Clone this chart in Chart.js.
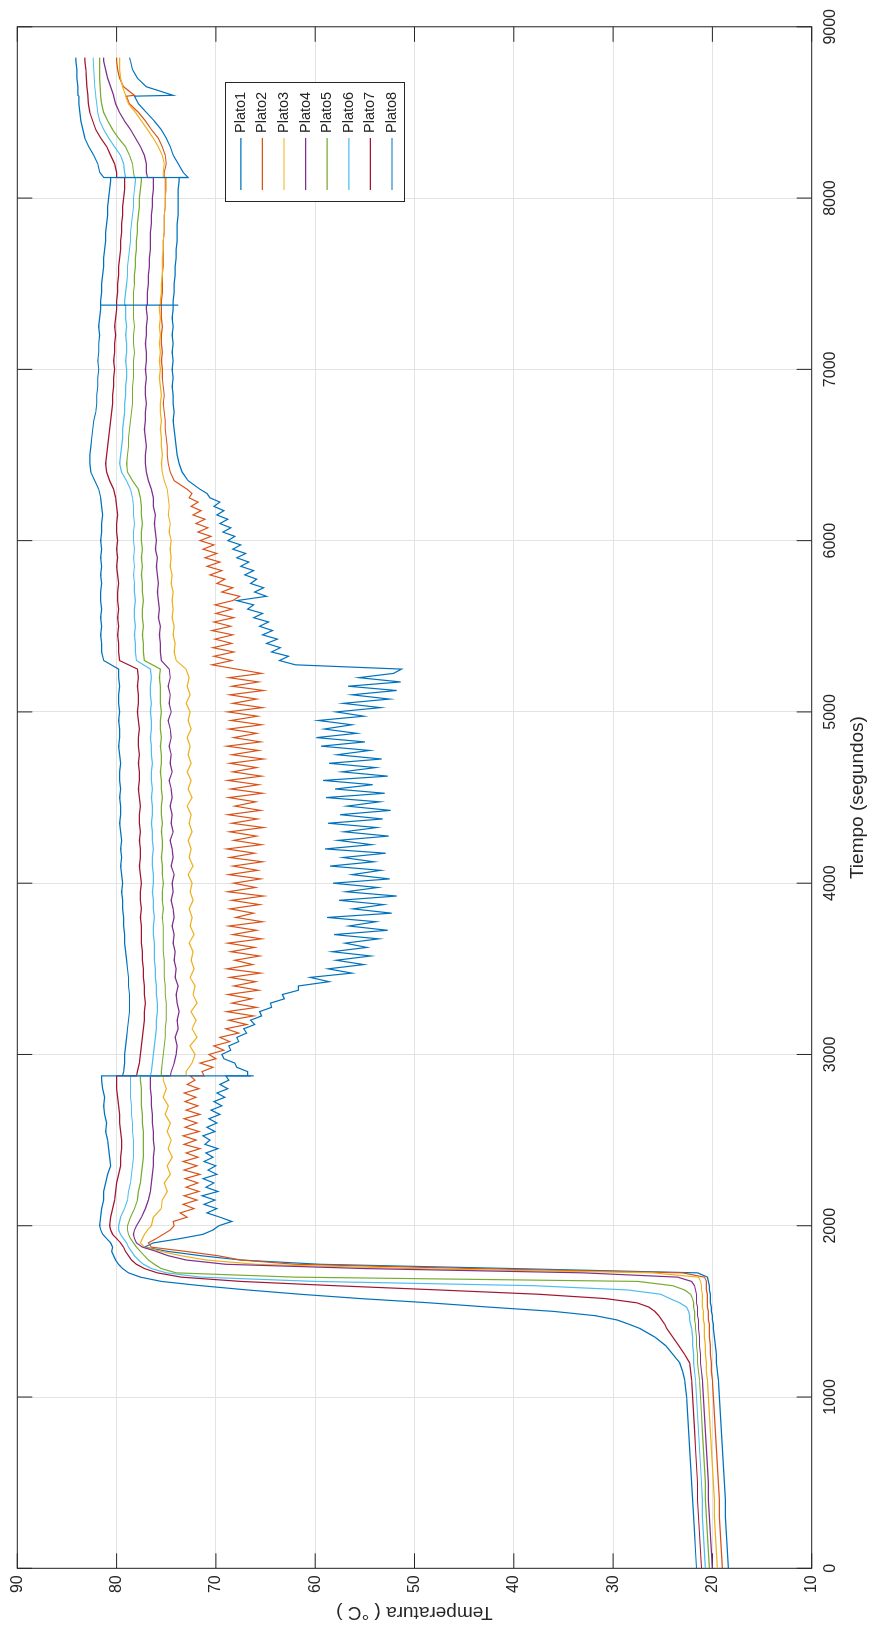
<!DOCTYPE html>
<html lang="es">
<head>
<meta charset="utf-8">
<title>Temperatura de los platos</title>
<script src="https://cdn.jsdelivr.net/npm/chart.js@4.4.1/dist/chart.umd.min.js"></script>
<style>
  html, body { margin: 0; padding: 0; width: 873px; height: 1629px; overflow: hidden; background: #ffffff; }
  /* the figure is drawn landscape and turned a quarter turn, like the reference */
  #marco { position: absolute; left: 0; top: 0; width: 1629px; height: 873px;
           transform-origin: 0 0; transform: translate(0, 1629px) rotate(-90deg); }
</style>
</head>
<body>
<div id="marco"><canvas id="grafico" width="1629" height="873"></canvas></div>
<script>
// tiempo en segundos para los platos 3 a 8 (los saltos del registro se repiten en el mismo instante)
var tiempo = [0, 100, 200, 300, 400, 500, 600, 700, 800, 900, 1000, 1100,
  1150, 1200, 1250, 1300, 1350, 1400,
  1425, 1450, 1475, 1500, 1525, 1550, 1575, 1600, 1625, 1650, 1675, 1700, 1725, 1750, 1775, 1800, 1825, 1850, 1875, 1900, 1925, 1950, 1975, 2000,
  2050, 2100, 2150, 2200, 2250, 2300, 2350, 2400, 2450, 2500, 2550, 2600, 2650, 2700, 2750, 2800, 2850,
  2875, 2875, 2875,
  2900, 2950, 3000, 3050, 3100, 3150, 3200, 3250, 3300, 3350, 3400, 3450, 3500, 3550, 3600, 3650, 3700, 3750, 3800, 3850,
  3900, 3950, 4000, 4050, 4100, 4150, 4200, 4250, 4300, 4350, 4400, 4450, 4500, 4550, 4600, 4650, 4700, 4750, 4800, 4850,
  4900, 4950, 5000, 5050, 5100, 5150, 5200, 5250,
  5300, 5350, 5400, 5450, 5500, 5550, 5600, 5650, 5700, 5750, 5800, 5850, 5900, 5950, 6000, 6050, 6100, 6150, 6200, 6250,
  6300, 6350, 6400, 6450, 6500, 6550, 6600, 6650, 6700, 6750, 6800, 6850, 6900, 6950, 7000, 7050, 7100, 7150, 7200, 7250,
  7300, 7350,
  7375, 7375, 7375,
  7400, 7450, 7500, 7550, 7600, 7650, 7700, 7750, 7800, 7850, 7900, 7950, 8000, 8050, 8100,
  8120, 8120, 8120,
  8150, 8200, 8250, 8300, 8350, 8400, 8450, 8500, 8550, 8595, 8600, 8650, 8700, 8750, 8800, 8820];

// tiempo mas fino para los platos 1 y 2, que son los ruidosos
var tiempoFino = [0, 100, 200, 300, 400, 500, 600, 700, 800, 900, 1000, 1100,
  1150, 1200, 1250, 1300, 1350, 1400,
  1425, 1450, 1475, 1500, 1525, 1550, 1575, 1600, 1625, 1650, 1675, 1700, 1725, 1750, 1775, 1800, 1825, 1850, 1875, 1900, 1925, 1950, 1975, 2000,
  2025, 2050, 2075, 2100, 2125, 2150, 2175, 2200, 2225, 2250, 2275, 2300, 2325, 2350, 2375, 2400, 2425, 2450, 2475, 2500,
  2525, 2550, 2575, 2600, 2625, 2650, 2675, 2700, 2725, 2750, 2775, 2800, 2825, 2850,
  2875, 2875, 2875,
  2900, 2925, 2950, 2975, 3000, 3025, 3050, 3075, 3100, 3125,
  3150, 3175, 3200, 3225, 3250, 3275, 3300, 3325, 3350, 3375,
  3400, 3425, 3450, 3475, 3500, 3525, 3550, 3575, 3600, 3625,
  3650, 3675, 3700, 3725, 3750, 3775, 3800, 3825, 3850, 3875,
  3900, 3925, 3950, 3975, 4000, 4025, 4050, 4075, 4100, 4125,
  4150, 4175, 4200, 4225, 4250, 4275, 4300, 4325, 4350, 4375,
  4400, 4425, 4450, 4475, 4500, 4525, 4550, 4575, 4600, 4625,
  4650, 4675, 4700, 4725, 4750, 4775, 4800, 4825, 4850, 4875,
  4900, 4925, 4950, 4975, 5000, 5025, 5050, 5075, 5100, 5125,
  5150, 5175, 5200, 5225, 5250,
  5275, 5300, 5325, 5350, 5375, 5400, 5425, 5450, 5475, 5500,
  5525, 5550, 5575, 5600, 5625, 5650, 5675, 5700, 5725, 5750,
  5775, 5800, 5825, 5850, 5875, 5900, 5925, 5950, 5975, 6000,
  6025, 6050, 6075, 6100, 6125, 6150, 6175, 6200, 6225, 6250,
  6275, 6300,
  6350, 6400, 6450, 6500, 6550, 6600, 6650, 6700, 6750, 6800, 6850, 6900, 6950, 7000, 7050, 7100, 7150, 7200, 7250, 7300, 7350,
  7375, 7375, 7375,
  7400, 7450, 7500, 7550, 7600, 7650, 7700, 7750, 7800, 7850, 7900, 7950, 8000, 8050, 8100,
  8120, 8120, 8120,
  8150, 8200, 8250, 8300, 8350, 8400, 8450, 8500, 8550, 8595, 8600, 8650, 8700, 8750, 8800, 8820];

var plato1 = [18.4, 18.5, 18.6, 18.7, 18.7, 18.8, 18.9, 19.0, 19.1, 19.2, 19.3, 19.4,
  19.5, 19.6, 19.6, 19.7, 19.8, 19.9, 19.9, 20.0, 20.0, 20.1, 20.1, 20.2, 20.2, 20.2, 20.3, 20.3, 20.4, 20.5,
  21.5, 40.0, 59.5, 67.5, 71.5, 74.8, 77.2, 76.3, 73.6, 71.3, 70.3, 69.7,
  68.4, 69.6, 70.9, 69.9, 71.2, 70.1, 71.4, 69.8, 71.0, 70.2, 71.3, 69.9, 70.8, 70.0, 71.2, 70.3,
  71.0, 69.8, 71.1, 70.6, 71.3, 70.1, 70.9, 69.9, 70.7, 69.6, 70.5, 69.4, 70.2, 69.1, 69.9, 68.8, 69.6, 68.7,
  69.0, 66.2, 66.8,
  66.8, 67.9, 68.1, 69.2, 69.4, 68.5, 68.7, 67.7, 67.9, 66.9,
  67.2, 66.1, 66.5, 65.4, 65.6, 64.4, 64.5, 63.1, 63.3, 61.7,
  61.7, 58.6, 60.5, 56.3, 58.7, 55.1, 57.9, 54.4, 58.3, 54.8,
  57.0, 53.6, 58.1, 52.7, 56.6, 53.9, 58.8, 52.3, 56.2, 53.1,
  57.6, 51.8, 56.9, 53.7, 58.2, 52.5, 56.3, 53.4, 58.5, 54.1,
  57.2, 52.9, 59.0, 54.3, 57.7, 52.6, 57.1, 53.8, 58.7, 53.2,
  57.5, 52.4, 56.8, 53.5, 58.9, 53.0, 58.0, 54.2, 59.2, 52.7,
  57.3, 53.9, 58.6, 53.3, 57.8, 54.5, 59.4, 55.0, 59.9, 55.8,
  59.1, 56.3, 59.7, 55.1, 57.9, 53.4, 57.2, 52.5, 56.3, 51.8,
  56.7, 51.4, 55.6, 52.1, 51.3,
  62.0, 63.6, 62.7, 64.4, 63.5, 64.9, 63.8, 65.3, 64.3, 65.6,
  64.7, 66.2, 65.3, 66.8, 66.2, 67.9, 64.9, 66.1, 65.2, 66.5,
  65.9, 67.1, 66.2, 67.5, 66.7, 67.9, 67.0, 68.3, 67.5, 68.8,
  68.1, 69.3, 68.5, 69.6, 68.8, 69.9, 69.2, 70.2, 69.6, 70.6,
  70.9, 71.6,
  72.8, 73.4, 73.7, 73.9, 74.0, 74.1, 74.2, 74.3, 74.2, 74.3, 74.3, 74.4, 74.3, 74.4, 74.3, 74.4, 74.3, 74.4, 74.3, 74.4, 74.3,
  74.3, 74.3, 74.3,
  74.3, 74.2, 74.2, 74.1, 74.1, 74.0, 74.0, 73.9, 73.9, 73.9, 73.8, 73.8, 73.8, 73.8, 73.7,
  73.7, 73.7, 72.8,
  73.3, 73.8, 74.3, 74.6, 75.0, 75.5, 76.2, 77.0, 77.8, 78.2, 74.3, 77.0, 77.9, 78.4, 78.6, 78.7];

var plato2 = [19.0, 19.1, 19.2, 19.3, 19.3, 19.4, 19.5, 19.6, 19.7, 19.8, 19.9, 20.0,
  20.1, 20.1, 20.2, 20.2, 20.3, 20.3, 20.3, 20.4, 20.4, 20.4, 20.5, 20.5, 20.5, 20.5, 20.6, 20.6, 20.6, 20.8,
  23.0, 44.0, 62.0, 67.5, 69.8, 73.0, 76.5, 76.8, 76.0, 75.3, 74.6, 74.2,
  74.3, 72.9, 73.6, 72.2, 73.3, 71.9, 73.2, 71.7, 73.0, 71.8, 73.1, 71.6, 73.2, 71.9, 73.3, 71.8,
  73.0, 71.6, 73.2, 72.0, 73.3, 71.7, 73.1, 71.9, 73.2, 71.6, 73.0, 71.8, 73.1, 72.0, 73.2, 71.7, 72.9, 72.1,
  72.6, 72.6, 71.2,
  71.4, 70.3, 71.6, 70.0, 70.7, 69.2, 70.2, 68.6, 69.6, 67.7,
  69.0, 66.9, 68.7, 66.2, 68.9, 65.9, 68.4, 66.4, 68.8, 65.7,
  68.2, 66.0, 68.6, 65.5, 68.9, 66.3, 68.1, 65.6, 68.5, 66.1,
  68.8, 65.4, 68.3, 65.9, 68.7, 65.3, 68.0, 66.2, 68.6, 65.6,
  68.4, 65.2, 68.8, 66.0, 68.2, 65.5, 68.7, 65.8, 68.3, 65.3,
  68.6, 66.1, 68.9, 65.4, 68.2, 65.9, 68.6, 65.2, 68.4, 65.8,
  68.8, 65.5, 68.1, 66.0, 68.7, 65.3, 68.5, 65.7, 68.8, 65.4,
  68.3, 65.9, 68.6, 65.2, 68.4, 65.7, 68.9, 65.5, 68.2, 65.9,
  68.7, 65.4, 68.5, 65.8, 68.8, 65.3, 68.3, 65.9, 68.6, 65.2,
  68.4, 65.7, 68.7, 65.4, 67.9,
  70.4, 68.4, 70.2, 68.2, 70.3, 68.4, 70.1, 68.3, 70.4, 68.5,
  70.2, 68.2, 70.0, 68.4, 70.1, 68.3, 67.6, 69.4, 68.3, 69.9,
  69.1, 70.6, 69.4, 70.9, 69.6, 71.1, 69.9, 71.3, 70.2, 71.6,
  70.5, 71.8, 70.8, 72.0, 71.1, 72.3, 71.5, 72.5, 71.8, 72.7,
  72.4, 72.9,
  74.2, 74.6, 74.8, 74.9, 74.9, 75.0, 75.1, 75.1, 75.2, 75.3, 75.2, 75.3, 75.4, 75.4, 75.5, 75.4, 75.5, 75.5, 75.4, 75.5, 75.5,
  75.5, 75.5, 75.5,
  75.5, 75.4, 75.4, 75.4, 75.3, 75.3, 75.3, 75.3, 75.2, 75.2, 75.2, 75.1, 75.1, 75.1, 75.1,
  75.1, 75.1, 75.2,
  75.2, 75.0, 75.1, 75.4, 75.8, 76.5, 77.1, 77.8, 78.7, 79.0, 78.2, 79.3, 79.7, 79.9, 80.0, 80.0];

var plato3 = [19.5, 19.6, 19.7, 19.8, 19.8, 19.9, 20.0, 20.1, 20.2, 20.3, 20.4, 20.5,
  20.6, 20.6, 20.7, 20.7, 20.8, 20.8, 20.8, 20.9, 20.9, 20.9, 21.0, 21.0, 21.0, 21.0, 21.1, 21.1, 21.2, 21.4,
  26.0, 50.0, 66.0, 71.0, 73.5, 75.5, 77.2, 77.6, 77.4, 77.2, 76.9, 76.5,
  76.3, 75.5, 75.4, 74.9, 75.2, 74.6, 74.9, 74.4, 74.8, 74.5, 74.9, 74.6, 75.1, 74.8, 75.3, 75.0, 75.3,
  75.3, 75.3, 73.0,
  73.0, 72.4, 72.1, 72.6, 71.9, 72.4, 72.0, 72.5, 71.9, 72.3,
  72.1, 72.6, 72.2, 72.5, 72.3, 72.7, 72.2, 72.6, 72.4, 72.7,
  72.3, 72.6, 72.4, 72.8, 72.3, 72.7, 72.5, 72.8, 72.4, 72.7,
  72.5, 72.9, 72.4, 72.8, 72.5, 72.9, 72.5, 72.8, 72.6, 72.9,
  72.5, 72.8, 72.6, 73.0, 72.6, 72.9, 72.7, 73.0,
  74.0, 74.2, 74.1, 74.3, 74.2, 74.4, 74.3, 74.4, 74.3, 74.5,
  74.4, 74.6, 74.5, 74.6, 74.5, 74.7, 74.6, 74.8, 74.7, 74.8,
  74.9, 75.2, 75.4, 75.5, 75.4, 75.5, 75.5, 75.6, 75.5, 75.6,
  75.6, 75.5, 75.6, 75.7, 75.6, 75.7, 75.6, 75.7, 75.6, 75.7,
  75.6, 75.7,
  75.7, 75.7, 75.6,
  75.6, 75.5, 75.5, 75.4, 75.4, 75.4, 75.3, 75.3, 75.2, 75.2, 75.2, 75.1, 75.1, 75.0, 75.0,
  75.0, 75.0, 75.3,
  75.3, 75.2, 75.4, 75.8, 76.3, 76.9, 77.5, 78.1, 78.8, 79.1, 79.1, 79.4, 79.6, 79.7, 79.7, 79.7];

var plato4 = [20.0, 20.1, 20.2, 20.3, 20.4, 20.4, 20.5, 20.6, 20.7, 20.8, 20.9, 21.0,
  21.1, 21.2, 21.2, 21.3, 21.3, 21.4, 21.4, 21.4, 21.5, 21.5, 21.5, 21.6, 21.6, 21.6, 21.7, 21.8, 22.1,
  23.5, 33.0, 55.0, 69.0, 73.0, 74.8, 76.0, 77.4, 78.0, 78.2, 78.3, 78.2, 78.0,
  77.5, 77.1, 76.8, 76.6, 76.5, 76.4, 76.3, 76.3, 76.2, 76.3, 76.3, 76.4, 76.4, 76.5, 76.5, 76.6, 76.6,
  76.6, 76.6, 74.6,
  74.5, 74.2, 74.0, 73.9, 74.1, 73.8, 73.9, 73.7, 73.9, 74.0,
  73.8, 74.1, 74.0, 74.2, 74.1, 74.3, 74.2, 74.4, 74.2, 74.3,
  74.5, 74.3, 74.4, 74.2, 74.5, 74.3, 74.4, 74.6, 74.3, 74.5,
  74.4, 74.6, 74.4, 74.5, 74.7, 74.4, 74.6, 74.5, 74.7, 74.5,
  74.6, 74.8, 74.5, 74.7, 74.6, 74.8, 74.6, 74.7,
  75.5, 75.6, 75.6, 75.7, 75.6, 75.8, 75.7, 75.8, 75.9, 75.8,
  75.9, 76.0, 75.9, 76.1, 76.0, 76.1, 76.2, 76.1, 76.3, 76.3,
  76.5, 76.8, 77.0, 77.1, 77.1, 77.0, 77.1, 77.2, 77.1, 77.1,
  77.0, 77.1, 77.1, 77.0, 77.1, 77.0, 77.0, 77.1, 77.0, 77.0,
  76.9, 77.0,
  77.0, 77.0, 76.9,
  76.9, 76.9, 76.8, 76.8, 76.7, 76.7, 76.6, 76.6, 76.6, 76.5, 76.5, 76.4, 76.4, 76.3, 76.3,
  76.3, 76.3, 76.9,
  77.0, 77.0, 77.2, 77.6, 78.1, 78.6, 79.2, 79.7, 80.1, 80.3, 80.3, 80.6, 80.9, 81.1, 81.3, 81.3];

var plato5 = [20.3, 20.4, 20.5, 20.6, 20.7, 20.7, 20.8, 20.9, 21.0, 21.1, 21.2, 21.3,
  21.4, 21.5, 21.5, 21.6, 21.6, 21.7, 21.7, 21.8, 21.8, 21.8, 21.9, 21.9, 22.0, 22.2, 22.8, 24.0,
  27.5, 62.0, 74.0, 75.5, 76.2, 76.8, 77.2, 77.6, 78.0, 78.3, 78.6, 78.8, 78.9, 78.9,
  78.6, 78.2, 77.9, 77.8, 77.6, 77.5, 77.4, 77.3, 77.3, 77.3, 77.3, 77.4, 77.4, 77.5, 77.5, 77.5, 77.6,
  77.6, 77.6, 75.5,
  75.5, 75.4, 75.3, 75.2, 75.1, 75.1, 75.0, 75.0, 75.0, 75.1,
  75.1, 75.2, 75.2, 75.2, 75.3, 75.3, 75.3, 75.3, 75.4, 75.3,
  75.4, 75.4, 75.3, 75.4, 75.4, 75.5, 75.4, 75.4, 75.5, 75.4,
  75.5, 75.5, 75.4, 75.5, 75.5, 75.6, 75.5, 75.5, 75.6, 75.5,
  75.6, 75.6, 75.5, 75.6, 75.6, 75.6, 75.7, 75.6,
  77.2, 77.3, 77.3, 77.4, 77.3, 77.4, 77.4, 77.3, 77.4, 77.4,
  77.5, 77.4, 77.5, 77.4, 77.5, 77.5, 77.4, 77.5, 77.5, 77.6,
  77.8, 78.4, 78.9, 79.0, 78.9, 78.8, 78.8, 78.7, 78.6, 78.5,
  78.4, 78.4, 78.4, 78.3, 78.3, 78.3, 78.2, 78.3, 78.3, 78.2,
  78.3, 78.3,
  78.3, 78.3, 78.3,
  78.3, 78.3, 78.2, 78.2, 78.1, 78.1, 78.0, 78.0, 77.9, 77.9, 77.8, 77.7, 77.7, 77.6, 77.5,
  77.5, 77.5, 78.2,
  78.3, 78.4, 78.7, 79.1, 79.8, 80.4, 80.9, 81.3, 81.5, 81.6, 81.6, 81.65, 81.7, 81.7, 81.7, 81.7];

var plato6 = [20.7, 20.8, 20.9, 21.0, 21.0, 21.1, 21.2, 21.3, 21.4, 21.5, 21.6, 21.7,
  21.8, 21.9, 21.9, 22.0, 22.0, 22.1, 22.2, 22.3, 22.3, 22.4, 22.6, 23.3, 24.3, 25.2, 28.5, 38.0,
  60.0, 71.5, 75.0, 76.5, 77.3, 77.8, 78.2, 78.5, 78.8, 79.0, 79.3, 79.6, 79.8, 79.8,
  79.6, 79.2, 78.9, 78.8, 78.6, 78.5, 78.4, 78.3, 78.3, 78.3, 78.4, 78.4, 78.5, 78.5, 78.6, 78.6, 78.6,
  78.6, 78.6, 76.6,
  76.5, 76.4, 76.3, 76.2, 76.1, 76.0, 76.0, 75.9, 75.9, 76.0,
  76.0, 76.1, 76.1, 76.2, 76.2, 76.2, 76.3, 76.3, 76.2, 76.3,
  76.3, 76.4, 76.3, 76.3, 76.4, 76.4, 76.3, 76.4, 76.4, 76.5,
  76.4, 76.4, 76.5, 76.4, 76.5, 76.5, 76.4, 76.5, 76.5, 76.6,
  76.5, 76.5, 76.6, 76.5, 76.6, 76.6, 76.5, 76.6,
  78.0, 78.1, 78.1, 78.2, 78.1, 78.2, 78.2, 78.1, 78.2, 78.2,
  78.3, 78.2, 78.3, 78.2, 78.3, 78.3, 78.2, 78.3, 78.3, 78.4,
  78.6, 79.0, 79.5, 79.7, 79.6, 79.5, 79.4, 79.4, 79.3, 79.2,
  79.2, 79.1, 79.1, 79.0, 79.0, 79.1, 79.0, 79.0, 79.1, 79.0,
  79.1, 79.1,
  79.1, 79.1, 79.2,
  79.2, 79.1, 79.0, 78.9, 78.9, 78.8, 78.7, 78.6, 78.6, 78.5, 78.4, 78.3, 78.3, 78.2, 78.1,
  78.1, 78.1, 79.1,
  79.2, 79.3, 79.6, 80.2, 80.8, 81.3, 81.7, 81.9, 82.0, 82.1, 82.1, 82.2, 82.25, 82.3, 82.35, 82.35];

var plato7 = [21.1, 21.2, 21.3, 21.4, 21.5, 21.5, 21.6, 21.7, 21.8, 21.9, 22.0, 22.1,
  22.2, 22.3, 22.8, 23.4, 24.0, 24.6, 24.8, 25.1, 25.4, 25.8, 26.4, 27.6, 30.8, 37.5, 47.5, 58.0,
  67.5, 73.5, 75.9, 77.2, 78.0, 78.5, 78.8, 79.1, 79.3, 79.6, 80.0, 80.4, 80.6, 80.7,
  80.6, 80.4, 80.2, 80.1, 80.0, 79.8, 79.6, 79.6, 79.5, 79.5, 79.6, 79.7, 79.7, 79.8, 79.9, 80.0, 80.0,
  80.0, 80.0, 78.0,
  77.9, 77.7, 77.6, 77.5, 77.4, 77.3, 77.2, 77.2, 77.1, 77.2,
  77.2, 77.3, 77.3, 77.4, 77.4, 77.5, 77.5, 77.5, 77.6, 77.5,
  77.6, 77.6, 77.5, 77.6, 77.7, 77.6, 77.6, 77.7, 77.6, 77.7,
  77.7, 77.6, 77.7, 77.8, 77.7, 77.7, 77.8, 77.7, 77.8, 77.8,
  77.7, 77.8, 77.9, 77.8, 77.8, 77.9, 77.8, 77.9,
  79.7, 79.8, 79.8, 79.9, 79.8, 79.9, 79.8, 79.9, 79.9, 79.8,
  79.9, 80.0, 79.9, 80.0, 79.9, 80.0, 80.0, 79.9, 80.0, 80.1,
  80.3, 80.7, 81.0, 81.1, 81.0, 80.9, 80.8, 80.7, 80.6, 80.5,
  80.4, 80.4, 80.3, 80.3, 80.2, 80.3, 80.2, 80.2, 80.1, 80.2,
  80.1, 80.0,
  80.0, 80.0, 80.0,
  80.0, 79.9, 79.9, 79.8, 79.8, 79.7, 79.6, 79.6, 79.5, 79.5, 79.4, 79.4, 79.3, 79.2, 79.2,
  79.2, 79.2, 80.0,
  80.0, 80.2, 80.6, 81.0, 81.6, 82.1, 82.4, 82.7, 82.85, 82.9, 82.9, 83.0, 83.05, 83.1, 83.2, 83.2];

var plato8 = [21.6, 21.7, 21.8, 21.9, 22.0, 22.1, 22.2, 22.3, 22.4, 22.5, 22.6, 22.8,
  23.0, 23.3, 24.0, 24.7, 25.8, 27.3, 28.4, 29.6, 31.8, 36.0, 42.5, 48.5, 55.5, 61.5, 66.8, 71.5,
  75.5, 77.6, 78.8, 79.4, 79.8, 80.1, 80.3, 80.5, 80.4, 80.6, 81.0, 81.4, 81.6, 81.7,
  81.6, 81.5, 81.3, 81.3, 81.1, 80.9, 80.6, 80.7, 80.8, 80.9, 81.1, 81.0, 81.2, 81.3, 81.2, 81.4, 81.5,
  81.5, 66.5, 79.4,
  79.3, 79.2, 79.2, 79.1, 79.0, 78.9, 78.8, 78.7, 78.7, 78.7,
  78.8, 78.8, 78.9, 79.0, 79.1, 79.2, 79.2, 79.3, 79.3, 79.4,
  79.4, 79.5, 79.4, 79.5, 79.6, 79.5, 79.6, 79.5, 79.6, 79.7,
  79.6, 79.6, 79.7, 79.6, 79.7, 79.7, 79.6, 79.7, 79.8, 79.7,
  79.7, 79.8, 79.7, 79.8, 79.8, 79.7, 79.8, 79.8,
  81.3, 81.5, 81.5, 81.6, 81.5, 81.6, 81.5, 81.6, 81.6, 81.5,
  81.6, 81.5, 81.6, 81.5, 81.6, 81.5, 81.5, 81.4, 81.5, 81.6,
  81.8, 82.2, 82.6, 82.7, 82.7, 82.6, 82.5, 82.4, 82.3, 82.1,
  82.0, 82.0, 81.9, 81.9, 81.8, 81.9, 81.8, 81.8, 81.7, 81.8,
  81.7, 81.6,
  81.6, 73.8, 81.6,
  81.6, 81.5, 81.5, 81.4, 81.3, 81.3, 81.2, 81.1, 81.1, 81.0, 80.9, 80.9, 80.8, 80.7, 80.6,
  80.6, 72.8, 81.3,
  81.7, 81.9, 82.3, 82.8, 83.2, 83.4, 83.6, 83.7, 83.8, 83.8, 83.9, 83.9, 84.0, 84.0, 84.1, 84.1];

var nombres = ['Plato1', 'Plato2', 'Plato3', 'Plato4', 'Plato5', 'Plato6', 'Plato7', 'Plato8'];
var colores = ['#0072BD', '#D95319', '#EDB120', '#7E2F8E', '#77AC30', '#4DBEEE', '#A2142F', '#0072BD'];
var marcasTiempo = [0, 1000, 2000, 3000, 4000, 5000, 6000, 7000, 8000, 9000];
var marcasTemp = [10, 20, 30, 40, 50, 60, 70, 80, 90];

var fuente = "'Liberation Sans', Arial, Helvetica, sans-serif";
var tinta = '#262626';
Chart.defaults.font.family = fuente;
Chart.defaults.color = tinta;

var series = [plato1, plato2, plato3, plato4, plato5, plato6, plato7, plato8];
var tiemposSerie = [tiempoFino, tiempoFino, tiempo, tiempo, tiempo, tiempo, tiempo, tiempo];
var datasets = [];
for (let i = 0; i < series.length; i++) {
    datasets.push({
        label: nombres[i],
        data: tiemposSerie[i].map((t, j) => ({x: t, y: series[i][j]})),
        borderColor: colores[i],
        backgroundColor: colores[i],
        borderWidth: 1.2,
        pointRadius: 0,
        tension: 0,
        fill: false,
        order: series.length - i   // Plato8 ends up on top, as in MATLAB
    });
}

// box round the axes with inward ticks on all four sides
const cajaEjes = {
    id: 'cajaEjes',
    beforeDatasetsDraw(chart) {
        const ctx = chart.ctx;
        const a = chart.chartArea;
        const sx = chart.scales.x, sy = chart.scales.y;
        const largo = 15;
        ctx.save();
        ctx.strokeStyle = tinta;
        ctx.lineWidth = 1;
        ctx.beginPath();
        marcasTiempo.forEach(v => {
            const px = sx.getPixelForValue(v);
            ctx.moveTo(px, a.bottom); ctx.lineTo(px, a.bottom - largo);
            ctx.moveTo(px, a.top); ctx.lineTo(px, a.top + largo);
        });
        marcasTemp.forEach(v => {
            const py = sy.getPixelForValue(v);
            ctx.moveTo(a.left, py); ctx.lineTo(a.left + largo, py);
            ctx.moveTo(a.right, py); ctx.lineTo(a.right - largo, py);
        });
        ctx.stroke();
        ctx.strokeRect(a.left, a.top, a.right - a.left, a.bottom - a.top);
        ctx.restore();
    }
};

// MATLAB style legend box inside the axes
const leyenda = {
    id: 'leyenda',
    afterDraw(chart) {
        const ctx = chart.ctx;
        const x0 = 1427.5, y0 = 225.5, w = 119, h = 179;
        ctx.save();
        ctx.fillStyle = '#ffffff';
        ctx.fillRect(x0, y0, w, h);
        ctx.strokeStyle = tinta;
        ctx.lineWidth = 1;
        ctx.strokeRect(x0, y0, w, h);
        ctx.font = '14.5px ' + fuente;
        ctx.textBaseline = 'middle';
        ctx.textAlign = 'left';
        chart.data.datasets.forEach((ds, i) => {
            const yc = 240.8 + 21.6 * i;
            ctx.strokeStyle = ds.borderColor;
            ctx.lineWidth = 1.2;
            ctx.beginPath();
            ctx.moveTo(1439, yc);
            ctx.lineTo(1491, yc);
            ctx.stroke();
            ctx.fillStyle = tinta;
            ctx.fillText(ds.label, 1496, yc);
        });
        ctx.restore();
    }
};

var myChart = new Chart(document.getElementById('grafico'), {
    type: 'line',
    data: {datasets: datasets},
    options: {
        responsive: false,
        animation: false,
        devicePixelRatio: 1,
        layout: {padding: {left: 0, right: 24, top: 17.3, bottom: 0}},
        plugins: {legend: {display: false}, tooltip: {enabled: false}},
        scales: {
            x: {
                type: 'linear',
                min: 0,
                max: 9000,
                afterBuildTicks: s => { s.ticks = marcasTiempo.map(v => ({value: v})); },
                afterFit: s => { s.height = 61.3; },
                grid: {color: '#e3e3e3', lineWidth: 1, drawTicks: false},
                border: {display: false},
                ticks: {color: tinta, font: {size: 16}, padding: 9, maxRotation: 0, autoSkip: false,
                        callback: v => String(v)},
                title: {display: true, text: 'Tiempo (segundos)', color: tinta, font: {size: 19},
                        padding: {top: 0, bottom: 4.2}}
            },
            y: {
                type: 'linear',
                min: 10,
                max: 90,
                afterBuildTicks: s => { s.ticks = marcasTemp.map(v => ({value: v})); },
                afterFit: s => { s.width = 60.7; },
                grid: {color: '#e3e3e3', lineWidth: 1, drawTicks: false},
                border: {display: false},
                ticks: {color: tinta, font: {size: 16}, padding: 7, autoSkip: false,
                        callback: v => String(v)},
                title: {display: true, text: 'Temperatura ( °C )', color: tinta, font: {size: 19},
                        padding: {top: 5.6, bottom: 0}}
            }
        }
    },
    plugins: [cajaEjes, leyenda]
});
</script>
</body>
</html>
